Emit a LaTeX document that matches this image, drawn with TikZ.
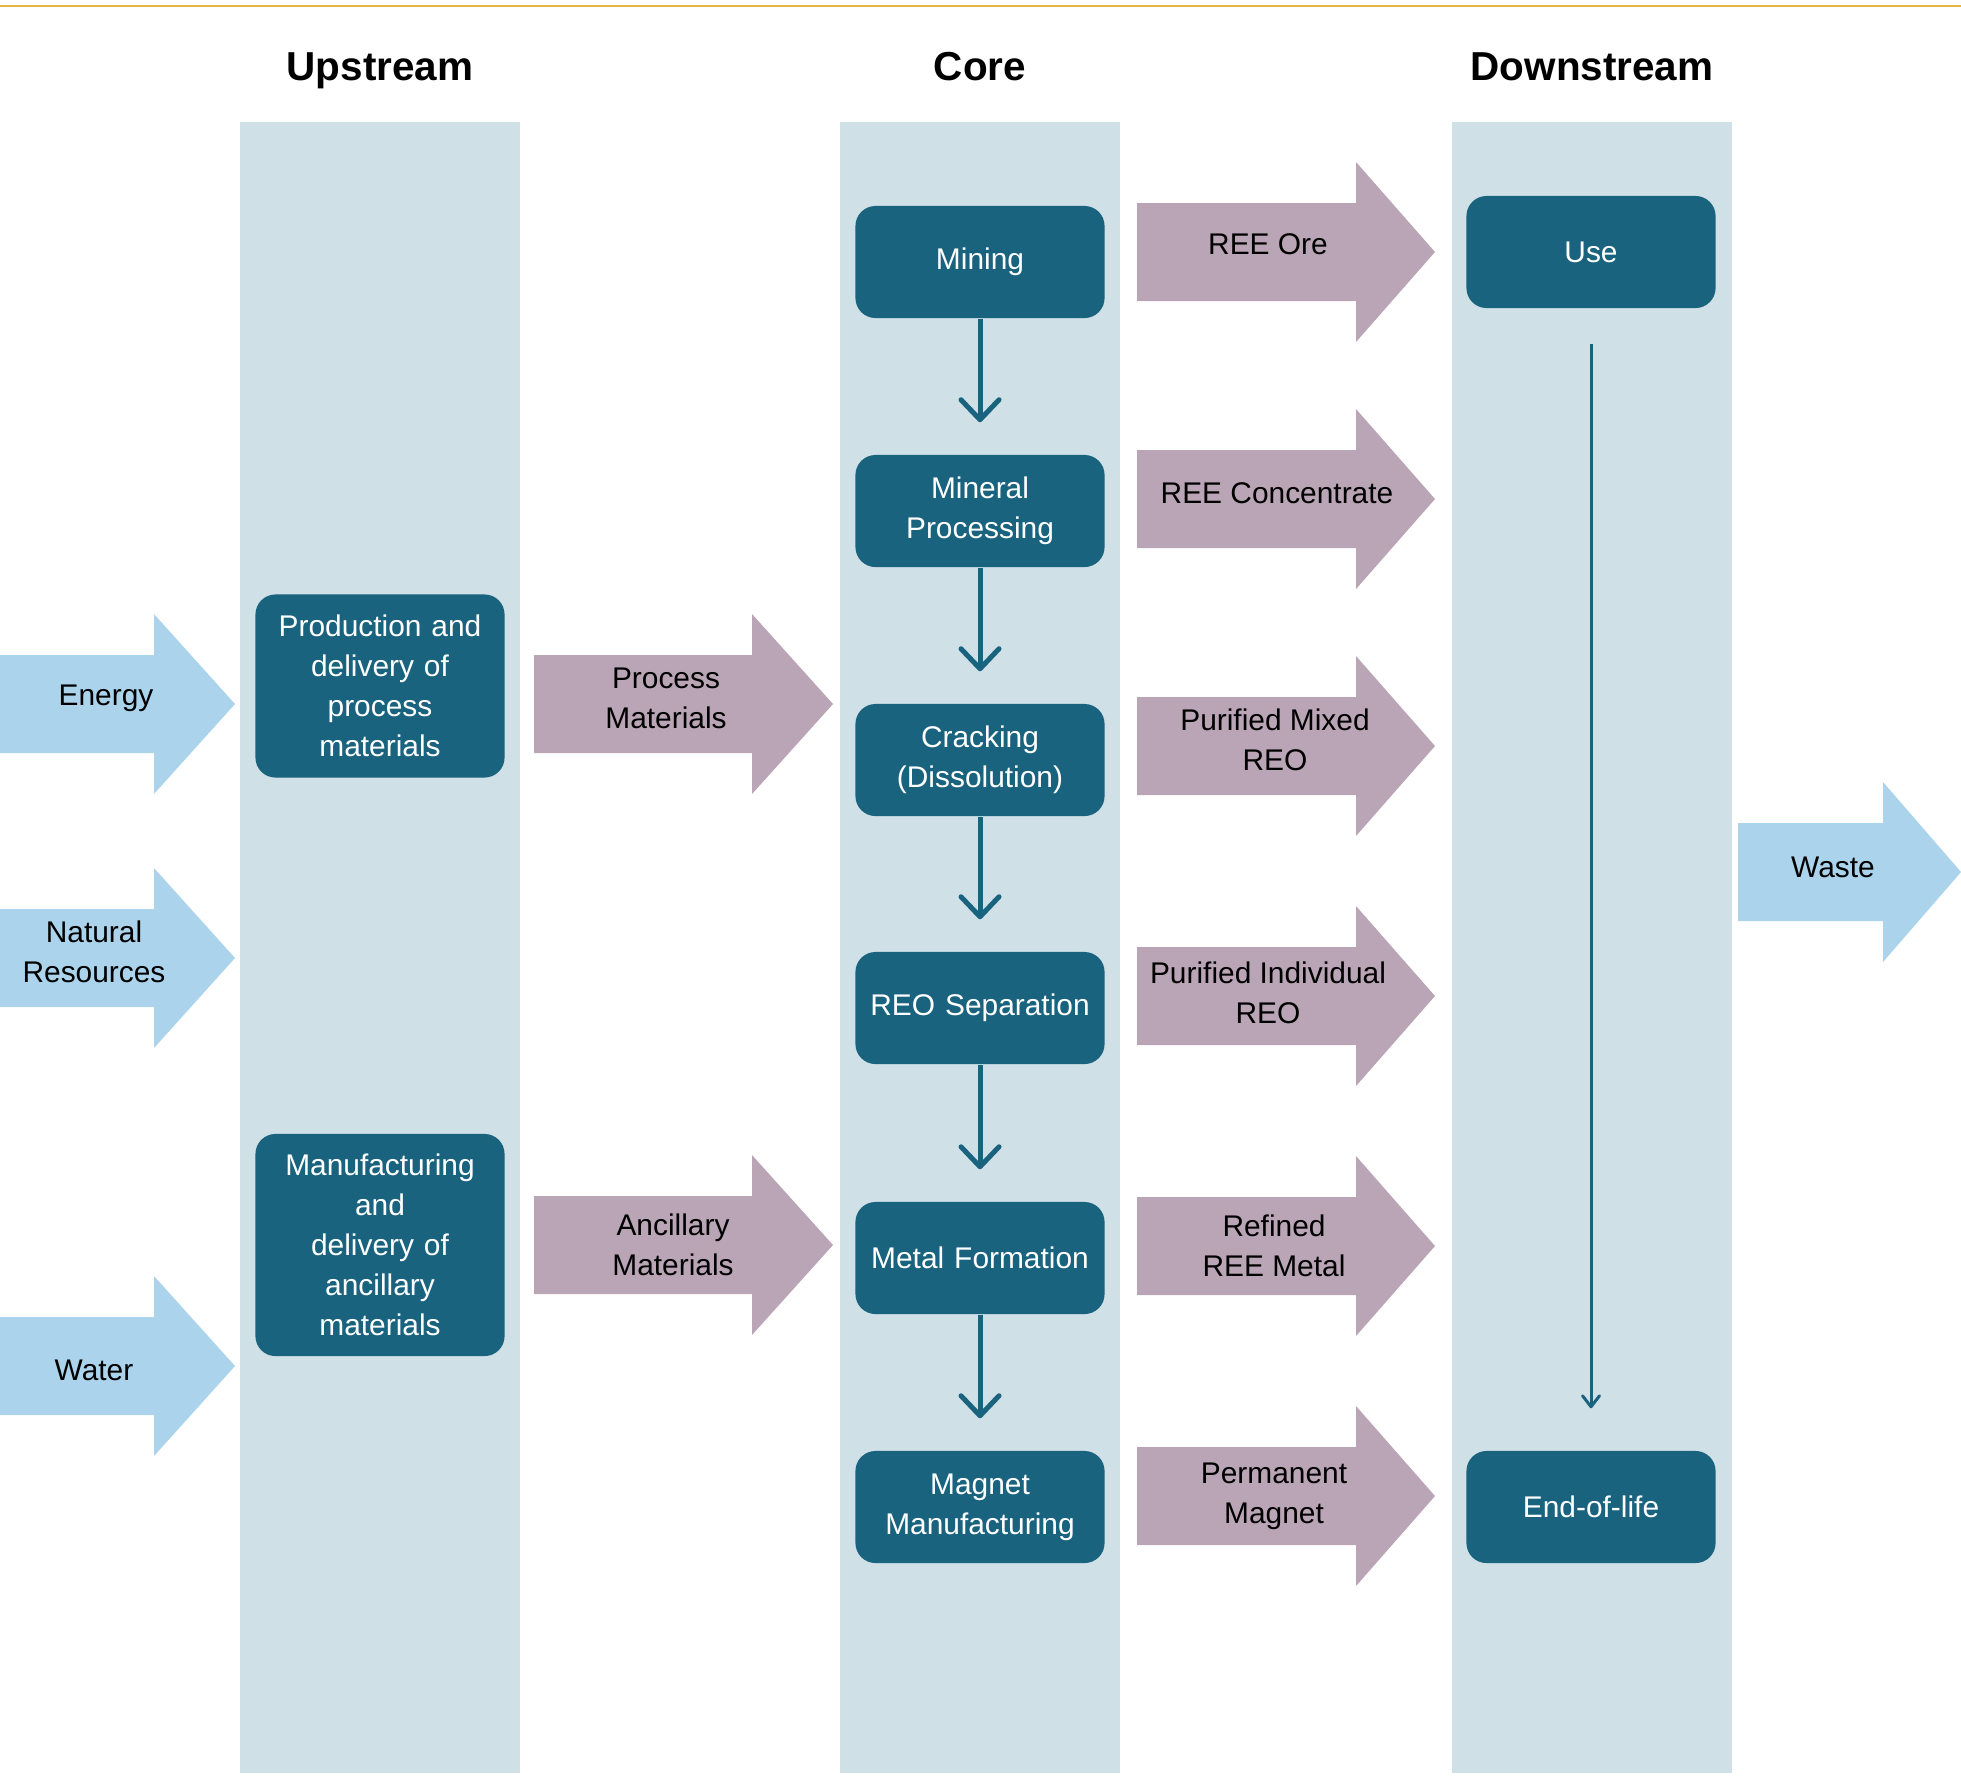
\documentclass[tikz,border=0pt]{standalone}
\usepackage{fontspec}
\setmainfont{Liberation Sans}
\usetikzlibrary{arrows.meta}
\definecolor{bandcol}{RGB}{207,224,231}
\definecolor{boxcol}{RGB}{25,99,127}
\definecolor{flowcol}{RGB}{186,165,182}
\definecolor{inputcol}{RGB}{171,212,236}
\definecolor{rulecol}{RGB}{224,184,64}
\tikzset{
  stage/.style = {fill=boxcol, rounded corners=0.2cm, text=white, align=center,
    text width=2.3cm, minimum width=2.49cm, minimum height=1.12cm, inner sep=0pt,
    font=\fontsize{8.5}{11.4}\selectfont},
  flowtext/.style = {align=center, inner sep=0pt, font=\fontsize{8.5}{11.4}\selectfont},
  heading/.style = {anchor=base, font=\bfseries\fontsize{11.5}{13}\selectfont},
  link/.style = {draw=boxcol, line width=0.05cm,
    -{Straight Barb[length=0.2cm,width=0.38cm,round]}},
  thinlink/.style = {draw=boxcol, line width=0.03cm,
    -{Straight Barb[length=0.11cm,width=0.17cm,round]}}
}
\newcommand\blockarrow[5]{% colour, x start, x head, x tip, y centre
  \fill[#1] (#2,{#5-49}) -- (#3,{#5-49}) -- (#3,{#5-90}) -- (#4,#5)
    -- (#3,{#5+90}) -- (#3,{#5+49}) -- (#2,{#5+49}) -- cycle;}

\begin{document}
\begin{tikzpicture}[x=0.01cm,y=-0.01cm]
  \useasboundingbox (0,0) rectangle (1961,1784);
  \draw[rulecol, line width=0.02cm] (0,6) -- (1961,6);

  % columns
  \foreach \X/\name/\txt in {240/up/Upstream, 840/core/Core, 1452/down/Downstream} {%
    \fill[bandcol] (\X,122) rectangle ({\X+280},1773);
    \node[heading] (head-\name) at ({\X+140},80) {\txt};
  }

  % stages
  \node[stage, minimum height=1.83cm] (prodproc) at (380,686)
    {Production and\\delivery of\\process\\materials};
  \node[stage, minimum height=2.22cm] (manuanc) at (380,1245)
    {Manufacturing\\and\\delivery of\\ancillary\\materials};
  \node[stage] (mining) at (980,262) {Mining};
  \node[stage] (mineral) at (980,511) {Mineral\\Processing};
  \node[stage] (cracking) at (980,760) {Cracking\\(Dissolution)};
  \node[stage] (separation) at (980,1008) {REO Separation};
  \node[stage] (metal) at (980,1258) {Metal Formation};
  \node[stage] (magnet) at (980,1507) {Magnet\\Manufacturing};
  \node[stage] (use) at (1591,252) {Use};
  \node[stage] (eol) at (1591,1507) {End-of-life};

  \foreach \A/\B in {mining/mineral, mineral/cracking, cracking/separation,
                     separation/metal, metal/magnet} {%
    \draw[link, shorten >=0.32cm] (\A) -- (\B);
  }
  \draw[thinlink, shorten <=0.35cm, shorten >=0.42cm] (use) -- (eol);

  % inputs
  \foreach \Y/\X/\dy/\name/\txt in {704/106/-6/energy/Energy,
      958/94/-6/natres/{Natural\\Resources}, 1366/94/4/water/Water} {%
    \blockarrow{inputcol}{0}{154}{235}{\Y}
    \node[flowtext] (\name) at (\X,{\Y+\dy}) {\txt};
  }
  \blockarrow{inputcol}{1738}{1883}{1961}{872}
  \node[flowtext] (waste) at (1833,867) {Waste};

  % materials into the core
  \foreach \Y/\X/\dy/\name/\txt in {704/666/-6/procmat/{Process\\Materials},
      1245/673/0/ancmat/{Ancillary\\Materials}} {%
    \blockarrow{flowcol}{534}{752}{833}{\Y}
    \node[flowtext] (\name) at (\X,{\Y+\dy}) {\txt};
  }

  % products
  \foreach \Y/\X/\dy/\name/\txt in {252/1268/-8/ore/{REE Ore},
      499/1277/-6/conc/{REE Concentrate},
      746/1275/-6/mixed/{Purified Mixed\\REO},
      996/1268/-3/indiv/{Purified Individual\\REO},
      1246/1274/0/refined/{Refined\\REE Metal},
      1496/1274/0/perm/{Permanent\\Magnet}} {%
    \blockarrow{flowcol}{1137}{1356}{1435}{\Y}
    \node[flowtext] (\name) at (\X,{\Y+\dy}) {\txt};
  }
\end{tikzpicture}
\end{document}
